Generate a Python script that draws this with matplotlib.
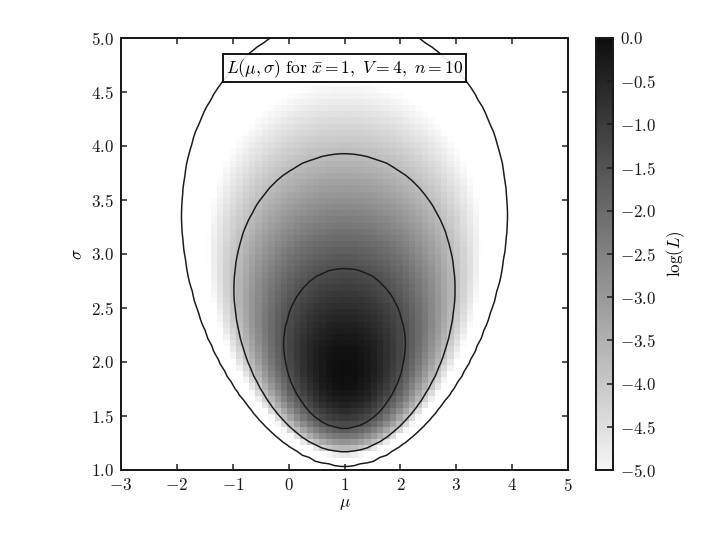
import numpy as np
import matplotlib
matplotlib.use("Agg")
import matplotlib.pyplot as plt

plt.rcParams['font.family'] = ['cmr10', 'DejaVu Serif']
plt.rcParams['mathtext.fontset'] = 'cm'
plt.rcParams['axes.formatter.use_mathtext'] = True
plt.rcParams['font.size'] = 17

# chart parameters (stated in the title box)
xbar = 1
V = 4
n = 10
mu_range = [-3, 5]
sigma_range = [1, 5]
n_grid = 70
contour_levels = [0.683, 0.955, 0.997]
x_ticks = [-3, -2, -1, 0, 1, 2, 3, 4, 5]
y_ticks = [1.0, 1.5, 2.0, 2.5, 3.0, 3.5, 4.0, 4.5, 5.0]
cbar_ticks = [-5.0, -4.5, -4.0, -3.5, -3.0, -2.5, -2.0, -1.5, -1.0, -0.5, 0.0]


def gauss_logL(xbar, V, n, sigma, mu):
    return (-(n + 1) * np.log(sigma)
            - 0.5 * n * ((xbar - mu) ** 2 + V) / sigma ** 2)


def convert_to_stdev(logL):
    s = np.exp(logL)
    shape = s.shape
    s = s.ravel()
    i_sort = np.argsort(s)[::-1]
    i_unsort = np.argsort(i_sort)
    cs = s[i_sort].cumsum()
    cs /= cs[-1]
    return cs[i_unsort].reshape(shape)


sigma = np.linspace(sigma_range[0], sigma_range[1], n_grid)
mu = np.linspace(mu_range[0], mu_range[1], n_grid)
logL = gauss_logL(xbar, V, n, sigma[:, None], mu)
logL -= logL.max()

fig = plt.figure(figsize=(10, 7.5), dpi=72)
ax = fig.add_axes([121/720, 1-470/540, (568-121)/720, (470-38)/540])
cax = fig.add_axes([596/720, 1-470/540, 17/720, (470-38)/540])

im = ax.imshow(logL, origin='lower',
               extent=(mu[0], mu[-1], sigma[0], sigma[-1]),
               cmap=plt.cm.binary, aspect='auto', vmin=-5.2, vmax=0.3,
               interpolation='nearest')
ax.contour(mu, sigma, convert_to_stdev(logL), levels=contour_levels,
           colors='#1a1a1a', linewidths=1.5)

ax.text(0.5, 0.93, r'$L(\mu,\sigma)\ \mathrm{for}\ \bar{x}=1,\ V=4,\ n=10$',
        bbox=dict(ec='k', fc='w', alpha=0.9, boxstyle='square,pad=0.15', lw=2),
        ha='center', va='center', transform=ax.transAxes, fontsize=17.5)

ax.set_xlim(mu_range)
ax.set_ylim(sigma_range)
ax.set_xticks(x_ticks)
ax.set_yticks(y_ticks)
ax.set_xticklabels([f'$-{abs(t)}$' if t < 0 else f'${t}$' for t in x_ticks])
ax.set_yticklabels([f'${t:.1f}$' for t in y_ticks])
ax.tick_params(direction='in', top=True, right=True, length=6, width=1.5,
               labelsize=17, pad=7, colors='#1a1a1a')
ax.set_xlabel(r'$\mu$', fontsize=17, labelpad=3)
ax.set_ylabel(r'$\sigma$', fontsize=17, labelpad=6)
for s in ax.spines.values():
    s.set_linewidth(2)
    s.set_color('#1a1a1a')

cb = fig.colorbar(im, cax=cax)
cb.set_ticks(cbar_ticks)
cb.set_ticklabels([f'$-{abs(t):.1f}$' if t < 0 else f'${t:.1f}$' for t in cbar_ticks])
cb.ax.set_ylim(-5, 0)
cax.tick_params(direction='in', length=6, width=1.5, labelsize=17, pad=7, colors='#1a1a1a')
cb.outline.set_linewidth(2)
cb.outline.set_edgecolor('#1a1a1a')
cb.set_label(r'$\log(L)$', fontsize=17, labelpad=8)

fig.savefig('out.png', dpi=72)
